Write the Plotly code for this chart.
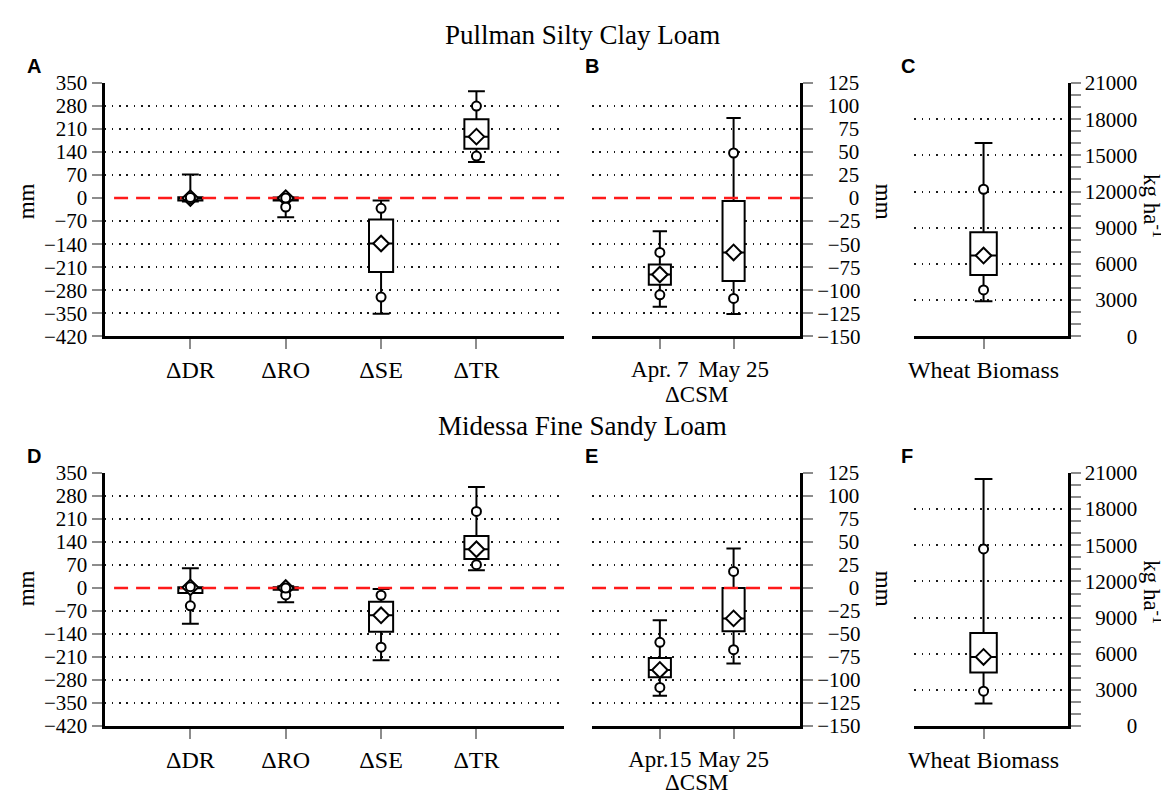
import plotly.graph_objects as go

# Box statistics, each list is
# [whisker low, lower circle, q1, median (diamond), q3, upper circle, whisker high]

# Pullman silty clay loam (panels A-C)
pul_dr = [-10, -3, -7, 0, 3, 2, 72]
pul_ro = [-58, -27, -7, 0, 2, 0, 3]
pul_se = [-352, -301, -225, -138, -65, -31, -7]
pul_tr = [110, 128, 150, 187, 240, 280, 325]
pul_csm_apr = [-118, -105, -94, -83, -72, -59, -36]
pul_csm_may = [-126, -109, -90, -59, -3, 49, 87]
pul_biomass = [2900, 3840, 5075, 6690, 8620, 12190, 16030]

# Midessa fine sandy loam (panels D-F)
mid_dr = [-109, -54, -15, 2, 2, 4, 60]
mid_ro = [-43, -21, -5, 0, 2, 0, 5]
mid_se = [-220, -180, -133, -83, -42, -22, -3]
mid_tr = [54, 71, 88, 118, 158, 233, 307]
mid_csm_apr = [-117, -108, -97, -89, -76, -59, -35]
mid_csm_may = [-82, -67, -47, -33, 0, 18, 43]
mid_biomass = [1880, 2900, 4450, 5740, 7720, 14700, 20490]

# categories and tick labels
water_terms = ["ΔDR", "ΔRO", "ΔSE", "ΔTR"]
pul_dates = ["Apr. 7", "May 25"]
mid_dates = ["Apr.15", "May 25"]
biomass_cat = ["Wheat Biomass"]

water_ticks = [-420, -350, -280, -210, -140, -70, 0, 70, 140, 210, 280, 350]
csm_ticks = [-150, -125, -100, -75, -50, -25, 0, 25, 50, 75, 100, 125]
biomass_ticks = [0, 3000, 6000, 9000, 12000, 15000, 18000, 21000]

W, H = 1169, 798
SERIF = "Liberation Serif"


def fx(p):
    return p / W


def fy(p):
    return 1 - p / H


def label(v):
    return str(v).replace("-", "\u2212")


def right_labels(vals):
    # pad with figure spaces so the right-side labels look right aligned
    def em(s):
        return sum(0.564 if c == "\u2212" else 0.5 for c in s)
    txt = [label(v) for v in vals]
    widest = max(em(t) for t in txt)
    return ["\u2007" * round((widest - em(t)) / 0.5) + t for t in txt]


fig = go.Figure()


def add_zero_line(xa, ya, x0, x1):
    fig.add_trace(go.Scatter(
        x=[x0, x1], y=[0, 0], mode="lines", xaxis=xa, yaxis=ya, hoverinfo="skip",
        line=dict(color="#ff1a1a", width=2.5, dash="14px,8px"),
    ))


def add_boxes(boxes, xa, ya, width, whisker):
    pos = list(range(len(boxes)))
    fig.add_trace(go.Box(
        x=pos,
        lowerfence=[b[0] for b in boxes],
        q1=[b[2] for b in boxes],
        median=[b[3] for b in boxes],
        q3=[b[4] for b in boxes],
        upperfence=[b[6] for b in boxes],
        width=width, whiskerwidth=whisker,
        fillcolor="white", line=dict(color="black", width=2),
        boxpoints=False, xaxis=xa, yaxis=ya, hoverinfo="skip",
    ))
    fig.add_trace(go.Scatter(
        x=pos, y=[b[3] for b in boxes], mode="markers", xaxis=xa, yaxis=ya,
        marker=dict(symbol="diamond", size=12, color="white",
                    line=dict(color="black", width=2)),
    ))
    fig.add_trace(go.Scatter(
        x=pos + pos, y=[b[1] for b in boxes] + [b[5] for b in boxes],
        mode="markers", xaxis=xa, yaxis=ya,
        marker=dict(symbol="circle", size=9, color="white",
                    line=dict(color="black", width=2)),
    ))


water_range = [-0.9, 3.92]
csm_range = [-0.92, 1.9]
bio_range = [-0.4516, 0.5484]

add_zero_line("x", "y", -0.8, water_range[1])
add_zero_line("x2", "y2", csm_range[0], csm_range[1])
add_zero_line("x4", "y4", -0.8, water_range[1])
add_zero_line("x5", "y5", csm_range[0], csm_range[1])

add_boxes([pul_dr, pul_ro, pul_se, pul_tr], "x", "y", 0.253, 0.7)
add_boxes([pul_csm_apr, pul_csm_may], "x2", "y2", 0.3, 0.65)
add_boxes([pul_biomass], "x3", "y3", 0.173, 0.67)
add_boxes([mid_dr, mid_ro, mid_se, mid_tr], "x4", "y4", 0.253, 0.7)
add_boxes([mid_csm_apr, mid_csm_may], "x5", "y5", 0.3, 0.65)
add_boxes([mid_biomass], "x6", "y6", 0.173, 0.67)

# panel geometry in pixels
cols = {"A": (91, 553), "B": (581, 790), "C": (905, 1059)}
rows = {"top": (65, 326), "bottom": (467, 728)}

axis_line = dict(showline=True, linecolor="black", linewidth=3,
                 ticks="outside", ticklen=10, tickwidth=1.5, tickcolor="#8c8c8c")
grid = dict(showgrid=True, gridcolor="#1a1a1a", gridwidth=1.5, griddash="1.5px,5.8px",
            zeroline=True, zerolinecolor="white", zerolinewidth=3)

layout_axes = {}
for r, (rname, (top, bot)) in enumerate(rows.items()):
    dates = pul_dates if r == 0 else mid_dates
    specs = [
        ("A", water_terms, water_range, water_ticks, "left", [label(v) for v in water_ticks], 24),
        ("B", dates, csm_range, csm_ticks, "right", right_labels(csm_ticks), 23),
        ("C", biomass_cat, bio_range, biomass_ticks, "right", right_labels(biomass_ticks), 24),
    ]
    for c, (col, cats, xr, yt, side, ytxt, xsize) in enumerate(specs):
        n = r * 3 + c + 1
        sfx = "" if n == 1 else str(n)
        x0, x1 = cols[col]
        layout_axes["xaxis" + sfx] = dict(
            domain=[fx(x0), fx(x1)], anchor="y" + sfx, range=xr,
            tickmode="array", tickvals=list(range(len(cats))), ticktext=cats,
            tickangle=0, tickfont=dict(family=SERIF, size=xsize, color="black"),
            showgrid=False, zeroline=False, **axis_line,
        )
        yax = dict(
            domain=[fy(bot), fy(top)], anchor="x" + sfx, side=side,
            range=[yt[0], yt[-1]], tickmode="array", tickvals=yt, ticktext=ytxt,
            tickfont=dict(family=SERIF, size=21, color="black"),
            **axis_line, **grid,
        )
        if col == "C":
            yax["minor"] = dict(dtick=1000, tick0=0, ticks="outside", ticklen=10,
                                tickwidth=1.5, tickcolor="#8c8c8c", showgrid=False)
        layout_axes["yaxis" + sfx] = yax

fig.update_layout(**layout_axes)

annotations = []


def note(text, x, y, size, angle=0, bold=False, xanchor="center"):
    annotations.append(dict(
        text="<b>%s</b>" % text if bold else text,
        x=fx(x), y=fy(y), xref="paper", yref="paper", showarrow=False,
        textangle=angle, xanchor=xanchor, yanchor="middle",
        font=dict(family="Liberation Sans" if bold else SERIF, size=size, color="black"),
    ))


note("Pullman Silty Clay Loam", 571, 15, 27)
note("Midessa Fine Sandy Loam", 571, 419, 27)
for letter, x, y in [("A", 11, 47), ("B", 572, 47), ("C", 890, 47),
                     ("D", 11, 450), ("E", 572, 450), ("F", 890, 450)]:
    note(letter, x, y, 20, bold=True, xanchor="left")
for y in (187, 586):
    note("mm", 12, y, 23, angle=-90)
    note("mm", 874, y, 23, angle=90)
note("kg ha<sup>-1</sup>", 1145, 192, 23, angle=90)
note("kg ha<sup>-1</sup>", 1145, 590, 23, angle=90)
note("ΔCSM", 686, 386, 23)
note("ΔCSM", 686, 786, 23)

fig.update_layout(
    width=W, height=H, margin=dict(l=0, r=0, t=0, b=0),
    showlegend=False, plot_bgcolor="white", paper_bgcolor="white",
    annotations=annotations,
)

fig.write_html("out.html")
